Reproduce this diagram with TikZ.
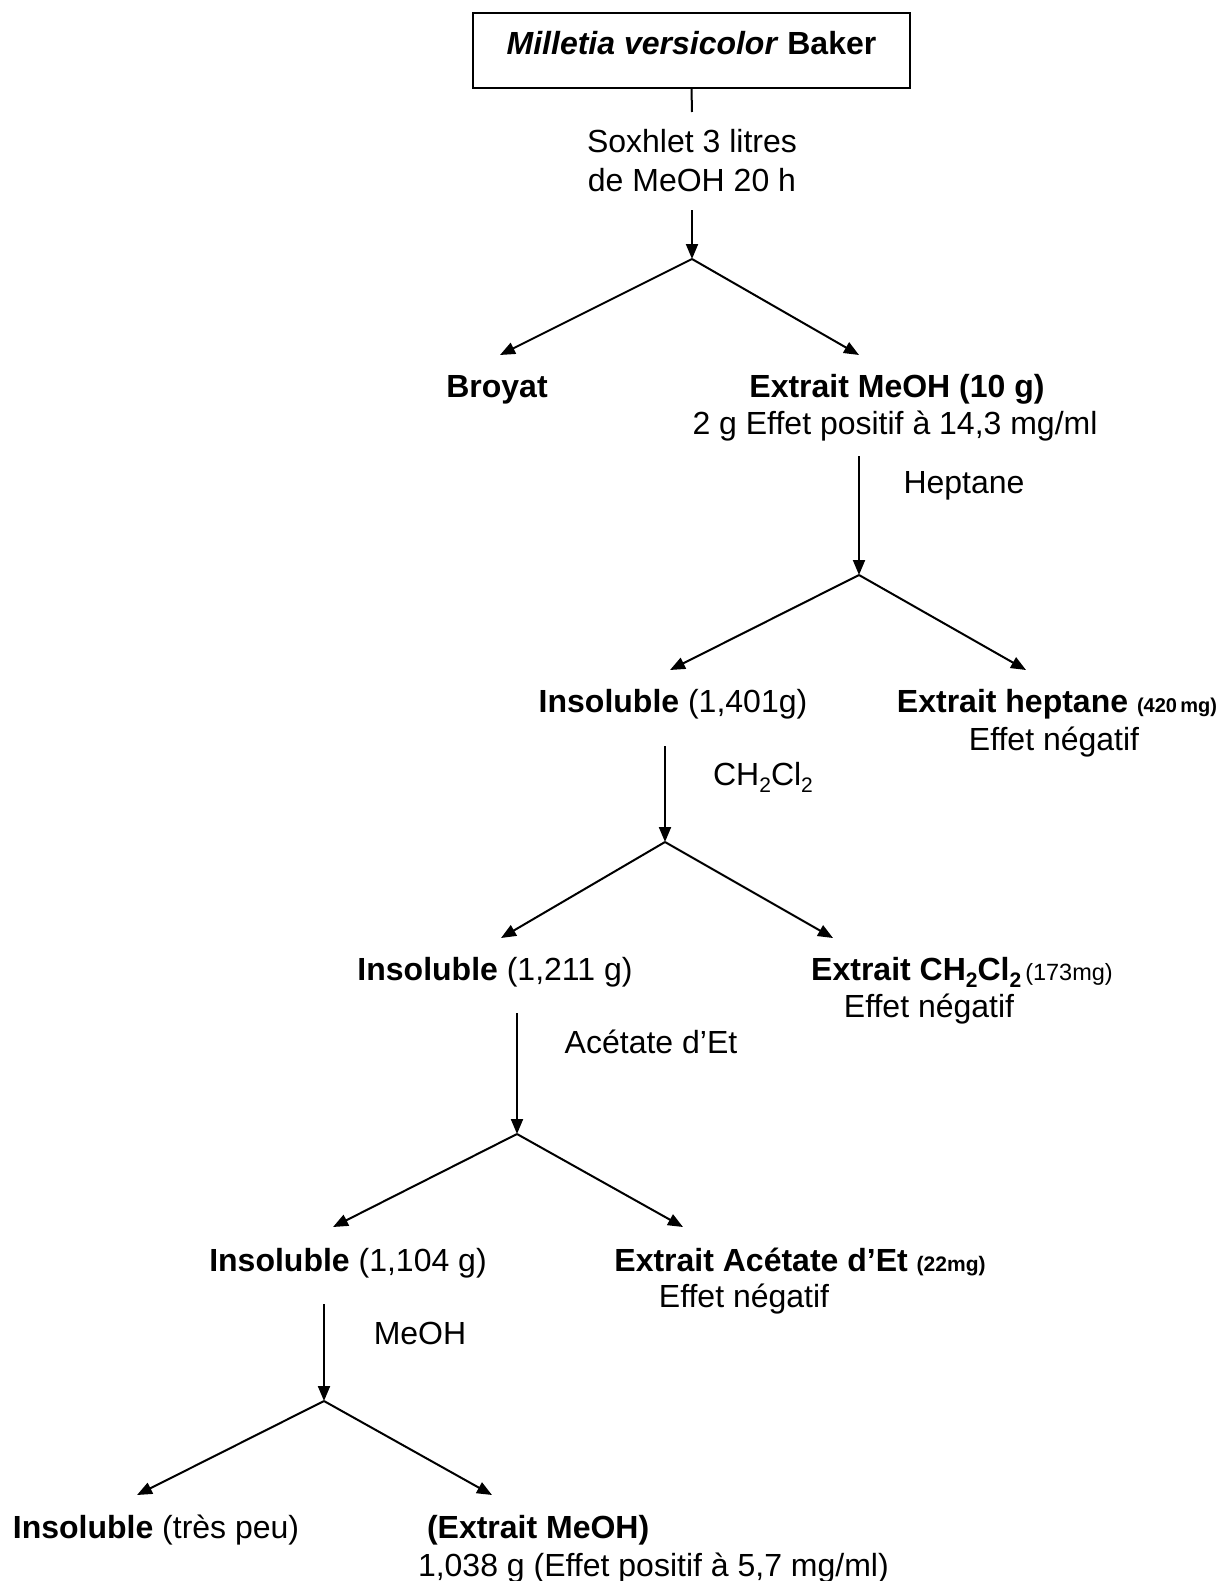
\documentclass[tikz,border=0pt]{standalone}
\usepackage{fontspec}
\setmainfont{Liberation Sans}
\usetikzlibrary{arrows.meta}
\newcommand\lowsub[1]{\raisebox{-0.22em}{\fontsize{21}{21}\selectfont #1}}
\begin{document}
\begin{tikzpicture}[x=1pt,y=-1pt,line width=2pt,
  arr/.style={-{Triangle[length=15pt,width=12pt]}},
  txt/.style={anchor=base,inner sep=0pt,font=\fontsize{32}{38}\selectfont},
  srcbox/.style={draw,line width=2.2pt,minimum width=437pt,minimum height=75pt,
     text height=22pt,text depth=13pt,inner sep=0pt,font=\fontsize{32}{38}\selectfont}]
\useasboundingbox (0,0) rectangle (1226,1581);
\fill[white] (0,0) rectangle (1226,1581);

% source
\node[srcbox] (src) at (691.5,50.5) {\textbf{\textit{Milletia versicolor} Baker}};
\node[txt] (sox1) at (692,153) {Soxhlet 3 litres};
\node[txt] (sox2) at (692,192) {de MeOH 20 h};

% level 1
\node[txt] (broyat) at (497,397) {\textbf{Broyat}};
\node[txt] (ext1) at (897,397) {\textbf{Extrait MeOH (10 g)}};
\node[txt] (ext1b) at (895,434) {2 g Effet positif à 14,3 mg/ml};
\node[txt] (hept) at (964,493) {Heptane};

% level 2
\node[txt] (ins1) at (673,712) {\textbf{Insoluble} (1,401g)};
\node[txt] (ext2) at (1057,712) {\textbf{Extrait heptane} {\fontsize{20}{20}\selectfont\bfseries (420\,mg)}};
\node[txt] (ext2b) at (1054,750) {Effet négatif};
\node[txt] (dcm) at (763,785) {CH\lowsub{2}Cl\lowsub{2}};

% level 3
\node[txt] (ins2) at (495,980) {\textbf{Insoluble} (1,211 g)};
\node[txt] (ext3) at (962,980) {\textbf{Extrait CH\lowsub{2}Cl\lowsub{2}}\hspace{4pt}{\fontsize{23.5}{24}\selectfont (173mg)}};
\node[txt] (ext3b) at (929,1017) {Effet négatif};
\node[txt] (acet) at (651,1053) {Acétate d’Et};

% level 4
\node[txt] (ins3) at (348,1271) {\textbf{Insoluble} (1,104 g)};
\node[txt] (ext4) at (800,1271) {\textbf{Extrait Acétate d’Et} {\fontsize{21}{21}\selectfont\bfseries (22mg)}};
\node[txt] (ext4b) at (744,1307) {Effet négatif};
\node[txt] (meoh) at (420,1344) {MeOH};

% level 5
\node[txt] (ins4) at (156,1538) {\textbf{Insoluble} (très peu)};
\node[txt,anchor=base west] (ext5) at (426,1538) {\textbf{(Extrait MeOH)}};
\node[txt,anchor=base west] (ext5b) at (417,1576) {1,038 g (Effet positif à 5,7 mg/ml)};

% connector points
\coordinate (c0) at (692,112);
\coordinate (s1) at (692,210); \coordinate (a1) at (692,259);
\coordinate (L1) at (500,355); \coordinate (R1) at (859,355);
\coordinate (s2) at (859,456); \coordinate (a2) at (859,575);
\coordinate (L2) at (670,670); \coordinate (R2) at (1026,670);
\coordinate (s3) at (665,746); \coordinate (a3) at (665,842);
\coordinate (L3) at (501,938); \coordinate (R3) at (833,938);
\coordinate (s4) at (517,1013); \coordinate (a4) at (517,1134);
\coordinate (L4) at (333,1227); \coordinate (R4) at (683,1227);
\coordinate (s5) at (324,1304); \coordinate (a5) at (324,1401);
\coordinate (L5) at (137,1495); \coordinate (R5) at (492,1495);

\draw (src.south) -- (c0);
\draw[arr] (s1) -- (a1);
\draw[arr] (a1) -- (L1);
\draw[arr] (a1) -- (R1);
\draw[arr] (s2) -- (a2);
\draw[arr] (a2) -- (L2);
\draw[arr] (a2) -- (R2);
\draw[arr] (s3) -- (a3);
\draw[arr] (a3) -- (L3);
\draw[arr] (a3) -- (R3);
\draw[arr] (s4) -- (a4);
\draw[arr] (a4) -- (L4);
\draw[arr] (a4) -- (R4);
\draw[arr] (s5) -- (a5);
\draw[arr] (a5) -- (L5);
\draw[arr] (a5) -- (R5);
\end{tikzpicture}
\end{document}
